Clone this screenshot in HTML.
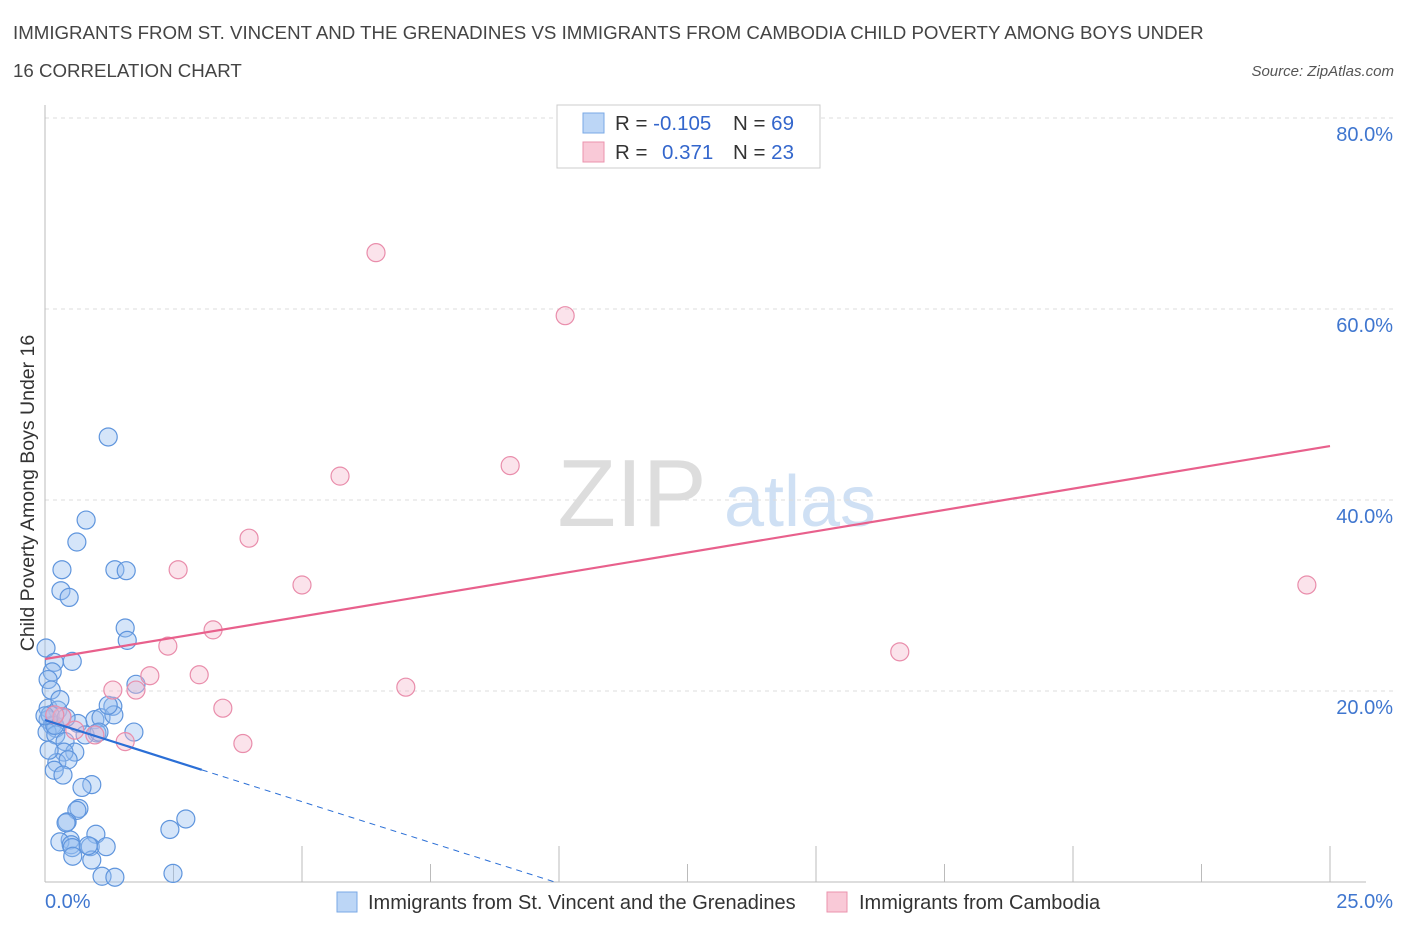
<!DOCTYPE html>
<html><head><meta charset="utf-8">
<style>
body{margin:0;background:#fff;font-family:"Liberation Sans",sans-serif;}
svg text{font-family:"Liberation Sans",sans-serif;}
</style></head>
<body>
<svg id="chart" width="1406" height="930" xmlns="http://www.w3.org/2000/svg">
<text x="13" y="39" font-size="18.7" fill="#444">IMMIGRANTS FROM ST. VINCENT AND THE GRENADINES VS IMMIGRANTS FROM CAMBODIA CHILD POVERTY AMONG BOYS UNDER</text>
<text x="13" y="77" font-size="18.7" fill="#444">16 CORRELATION CHART</text>
<text x="1394" y="76" font-size="15" fill="#555" font-style="italic" text-anchor="end">Source: ZipAtlas.com</text>
<text transform="translate(34,493) rotate(-90)" font-size="19.5" fill="#333" text-anchor="middle">Child Poverty Among Boys Under 16</text>
<g>
<text x="632" y="526" font-size="96" fill="#ddd" font-family="Liberation Serif,serif" text-anchor="middle">ZIP</text>
<text x="800" y="526" font-size="72" fill="#cfe0f4" text-anchor="middle">atlas</text>
</g>
<g id="grid"></g><g id="axes"></g><g id="marks"></g>
<g>
<rect x="557" y="105" width="263" height="63" fill="#fff" stroke="#ccc"/>
<rect x="583" y="113" width="21" height="20" fill="#bcd6f6" stroke="#7aa8e6"/>
<rect x="583" y="142" width="21" height="20" fill="#f9c9d7" stroke="#eb93ae"/>
<text x="615" y="130" font-size="20.5" fill="#333">R = <tspan fill="#3366cc">-0.105</tspan><tspan x="733">N = </tspan><tspan fill="#3366cc">69</tspan></text>
<text x="615" y="159" font-size="20.5" fill="#333">R = <tspan x="662" fill="#3366cc">0.371</tspan><tspan x="733">N = </tspan><tspan fill="#3366cc">23</tspan></text>
</g>
<g>
<rect x="337" y="892" width="20" height="20" fill="#bcd6f6" stroke="#7aa8e6"/>
<text x="368" y="909" font-size="20" fill="#333">Immigrants from St. Vincent and the Grenadines</text>
<rect x="827" y="892" width="20" height="20" fill="#f9c9d7" stroke="#eb93ae"/>
<text x="859" y="909" font-size="20" fill="#333">Immigrants from Cambodia</text>
</g>
</svg>
<script>
const blueX=[1.23,0.80,0.62,0.33,1.36,1.58,0.31,0.47,1.56,1.60,0.02,0.18,0.53,0.14,0.06,0.12,1.77,1.32,0.06,0.25,0.33,0.97,1.09,1.34,0.06,0.14,0.21,0.64,0.04,0.21,0.39,1.01,1.73,0.58,0.37,0.23,0.45,0.18,0.35,0.91,0.72,0.66,0.62,0.43,0.49,0.99,0.29,0.51,0.53,0.88,1.19,0.54,0.91,1.11,1.36,2.49,2.43,2.74,0.19,0.10,0.29,0.41,0.78,0.0,1.05,1.23,0.84,0.41,0.08];
const blueY=[46.6,37.9,35.6,32.7,32.7,32.6,30.5,29.8,26.6,25.3,24.5,23.0,23.1,22.0,21.2,20.1,20.7,18.4,18.2,18.0,17.3,17.0,17.2,17.5,17.0,16.4,16.1,16.6,15.7,15.4,14.7,15.6,15.7,13.6,13.6,12.5,12.8,11.7,11.2,10.2,9.9,7.7,7.5,6.3,4.4,5.0,4.2,3.9,3.6,3.7,3.7,2.7,2.3,0.6,0.5,0.9,5.5,6.6,16.4,17.5,19.1,17.2,15.4,17.4,15.7,18.5,3.8,6.2,13.8];
const pinkX=[6.44,10.12,9.05,5.74,3.97,2.59,5.0,24.55,3.27,2.39,2.04,3.0,1.32,1.77,7.02,16.63,3.46,1.56,3.85,0.33,0.19,0.97,0.58];
const pinkY=[65.9,59.3,43.6,42.5,36.0,32.7,31.1,31.1,26.4,24.7,21.6,21.7,20.1,20.1,20.4,24.1,18.2,14.7,14.5,17.3,17.5,15.4,15.9];
const yTicks=[20,40,60,80];
const yTickLabels=["20.0%","40.0%","60.0%","80.0%"];
const xTicks=[0,2.5,5,7.5,10,12.5,15,17.5,20,22.5,25];
const pinkTrend=[23.35,45.65];
const blueTrend=[16.96,-1.71];
const blueSolidEnd=3.05;

const NS="http://www.w3.org/2000/svg";
const X=v=>45+v*1285/25, Y=v=>882-v*9.55;
function mk(parent,tag,attrs){const e=document.createElementNS(NS,tag);for(const k in attrs)e.setAttribute(k,attrs[k]);document.getElementById(parent).appendChild(e);return e;}
yTicks.forEach((t,i)=>{
 const g=mk('grid','line',{x1:45,x2:1395,y1:Y(t),y2:Y(t),stroke:'#ddd','stroke-dasharray':'4,4'});
 
 
 const l=mk('axes','text',{x:1393,y:Y(t)+23,'font-size':20,fill:'#3f76cf','text-anchor':'end'});
 l.textContent=yTickLabels[i];
 
 
});
let a=mk('axes','line',{x1:45,x2:45,y1:105,y2:882,stroke:'#bbb'});


a=mk('axes','line',{x1:45,x2:1366,y1:882,y2:882,stroke:'#bbb'});


xTicks.forEach((t,i)=>{
 const tall=(i%2===0);
 const tk=mk('axes','line',{x1:X(t),x2:X(t),y1:tall?846:864,y2:882,stroke:'#bbb'});
 
 
});
let xl=mk('axes','text',{x:45,y:908,'font-size':20,fill:'#3f76cf'});xl.textContent='0.0%';


xl=mk('axes','text',{x:1393,y:908,'font-size':20,fill:'#3f76cf','text-anchor':'end'});xl.textContent='25.0%';


blueX.forEach((x,i)=>{
 const c=mk('marks','circle',{cx:X(x),cy:Y(blueY[i]),r:9,fill:'rgba(150,190,240,0.4)',stroke:'#5f95dd','stroke-width':1.2});
 
 
});
pinkX.forEach((x,i)=>{
 const c=mk('marks','circle',{cx:X(x),cy:Y(pinkY[i]),r:9,fill:'rgba(245,185,205,0.4)',stroke:'#e98dab','stroke-width':1.2});
 
 
});
let t=mk('marks','line',{x1:X(0),y1:Y(pinkTrend[0]),x2:X(25),y2:Y(pinkTrend[1]),stroke:'#e8608c','stroke-width':2.2});


const bz=-blueTrend[0]/blueTrend[1];
t=mk('marks','line',{x1:X(0),y1:Y(blueTrend[0]),x2:X(blueSolidEnd),y2:Y(blueTrend[0]+blueTrend[1]*blueSolidEnd),stroke:'#2b6fd6','stroke-width':2.2});


t=mk('marks','line',{x1:X(blueSolidEnd),y1:Y(blueTrend[0]+blueTrend[1]*blueSolidEnd),x2:X(bz),y2:Y(0),stroke:'#2b6fd6','stroke-width':1,'stroke-dasharray':'6,5'});


</script>
</body></html>
